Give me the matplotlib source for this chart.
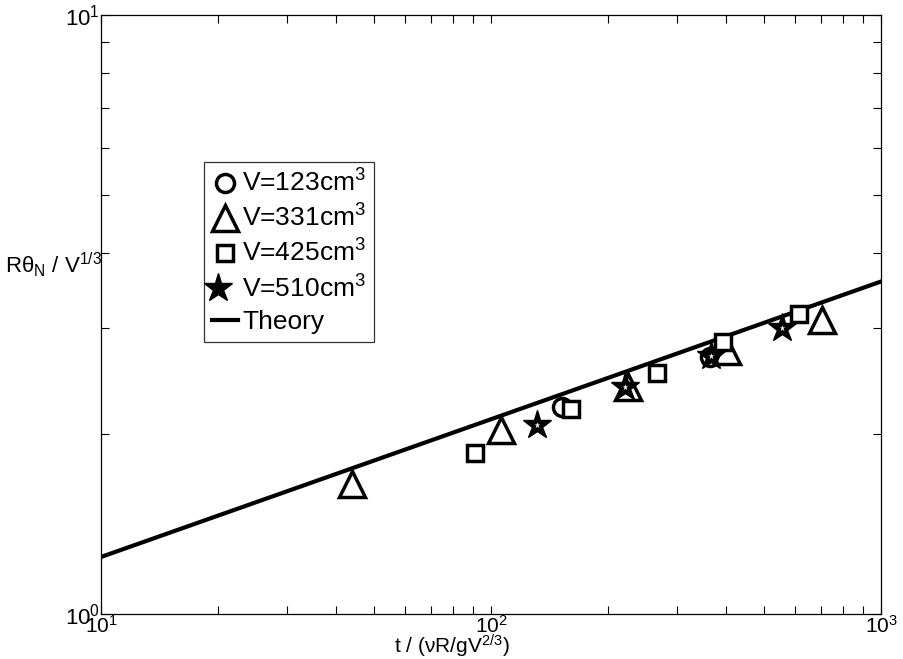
""" Contact angle scaling: R*theta_N / V^(1/3) vs rescaled time """

import matplotlib
matplotlib.use('Agg')
import matplotlib.pyplot as plt
from matplotlib.ticker import NullFormatter
from matplotlib.legend_handler import HandlerTuple

plt.rcParams['font.family'] = ['Liberation Sans', 'DejaVu Sans']
plt.rcParams['mathtext.fontset'] = 'custom'
plt.rcParams['mathtext.rm'] = 'Liberation Sans'
plt.rcParams['mathtext.it'] = 'Liberation Sans:italic'
plt.rcParams['mathtext.default'] = 'regular'

# data
t_123 = [152, 365]
y_123 = [2.22, 2.69]

t_331 = [44, 106, 224, 403, 706]
y_331 = [1.65, 2.03, 2.39, 2.75, 3.10]

t_425 = [91, 160, 267, 393, 616]
y_425 = [1.86, 2.20, 2.53, 2.85, 3.17]

t_510 = [131, 221, 366, 557]
y_510 = [2.07, 2.39, 2.70, 3.00]

theory_t = [10, 1000]
theory_y = [1.245, 3.59]

labels = ['V=123cm$^3$', 'V=331cm$^3$', 'V=425cm$^3$', 'V=510cm$^3$', 'Theory']


def make_plot():
    fig = plt.figure(figsize=(9.04, 6.59), dpi=100)
    ax = fig.add_axes([0.1117, 0.0683, 0.863, 0.909])

    mew = 2.5
    h1, = ax.plot(t_123, y_123, 'o', ms=13, mfc='white', mec='black',
                  mew=mew, zorder=3)
    h2, = ax.plot(t_331, y_331, '^', ms=19, mfc='white', mec='black',
                  mew=mew, zorder=3)
    h3, = ax.plot(t_425, y_425, 's', ms=12, mfc='white', mec='black',
                  mew=mew, zorder=3)
    # star: black body with small white center
    h4a, = ax.plot(t_510, y_510, '*', ms=21, mfc='black', mec='black',
                   mew=1, zorder=3)
    h4b, = ax.plot(t_510, y_510, '*', ms=5, mfc='white', mec='none',
                   zorder=4)
    h5, = ax.plot(theory_t, theory_y, '-', color='black', lw=3, zorder=2)

    ax.set_xscale('log')
    ax.set_yscale('log')
    ax.set_xlim(10, 1000)
    ax.set_ylim(1, 10)
    ax.set_xticks([10, 100, 1000])
    ax.set_yticks([1, 10])
    ax.xaxis.set_minor_formatter(NullFormatter())
    ax.yaxis.set_minor_formatter(NullFormatter())

    ax.tick_params(which='both', direction='in', top=True, right=True,
                   labelsize=16, width=0.8, length=6)
    ax.tick_params(axis='x', which='major', labelsize=15, pad=1)
    ax.tick_params(axis='y', which='major', pad=1)
    for s in ax.spines.values():
        s.set_linewidth(0.9)

    ax.set_xlabel('t / ($\\nu$R/gV$^{2/3}$)', fontsize=15)
    ax.xaxis.set_label_coords(0.5, 5.0 / 659, transform=fig.transFigure)
    ax.xaxis.label.set_va('baseline')
    ax.set_ylabel('R$\\theta_N$ / V$^{1/3}$', fontsize=16, rotation=0)
    ax.yaxis.set_label_coords(-0.061, 0.56)

    leg = ax.legend([h1, h2, h3, (h4a, h4b), h5], labels,
                    handler_map={tuple: HandlerTuple(ndivide=None, pad=0)},
                    loc='upper left', bbox_to_anchor=(0.132, 0.755),
                    fontsize=19, frameon=True, fancybox=False,
                    edgecolor='black', handlelength=1.0, handletextpad=0.15,
                    borderpad=0.3, labelspacing=0.3, borderaxespad=0)
    leg.get_frame().set_linewidth(0.9)

    fig.savefig('out.png', dpi=100)


if __name__ == "__main__":
    make_plot()
